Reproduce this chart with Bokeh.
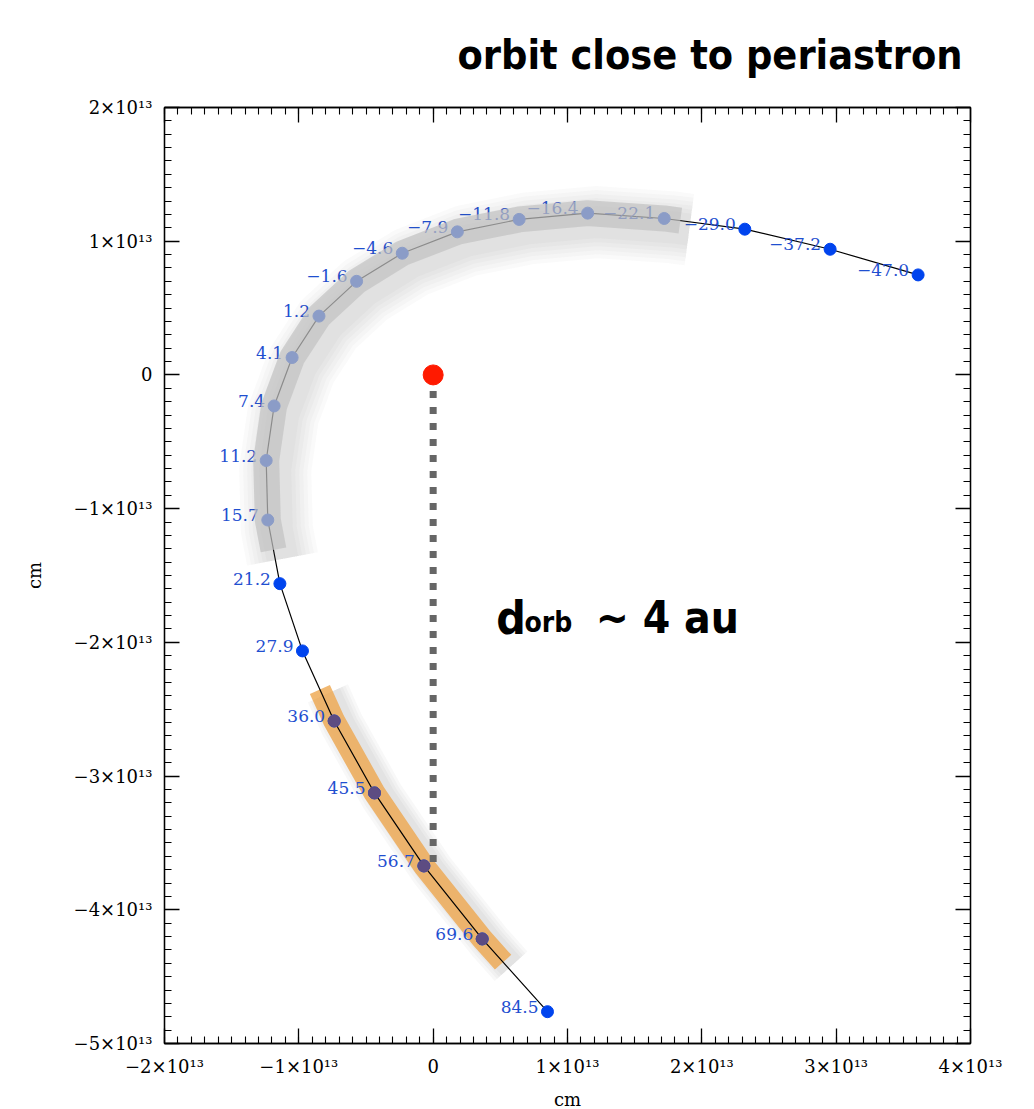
import numpy as np
from bokeh.plotting import figure
from bokeh.models import (Range1d, FixedTicker, LinearAxis, ColumnDataSource, Label,
                          CustomJSTickFormatter)
from bokeh.embed import file_html
from bokeh.resources import INLINE
from bokeh.core.properties import value

# ---------------- data ----------------
E13 = 1e13
times = [-47.0, -37.2, -29.0, -22.1, -16.4, -11.8, -7.9, -4.6, -1.6, 1.2, 4.1,
         7.4, 11.2, 15.7, 21.2, 27.9, 36.0, 45.5, 56.7, 69.6, 84.5]
orbit_x = [3.61, 2.955, 2.32, 1.72, 1.15, 0.64, 0.18, -0.23, -0.57, -0.85, -1.05,
           -1.184, -1.243, -1.231, -1.141, -0.973, -0.737, -0.437, -0.069, 0.365, 0.851]
orbit_y = [0.748, 0.94, 1.09, 1.17, 1.21, 1.163, 1.07, 0.91, 0.70, 0.44, 0.13,
           -0.232, -0.64, -1.085, -1.561, -2.064, -2.588, -3.126, -3.672, -4.218, -4.762]
star_x = [0.0]
star_y = [0.0]
x_ticks = [-2, -1, 0, 1, 2, 3, 4]
y_ticks = [-5, -4, -3, -2, -1, 0, 1, 2]
x_tick_labels = ["\u22122\u00d710\u00b9\u00b3", "\u22121\u00d710\u00b9\u00b3", "0",
                 "1\u00d710\u00b9\u00b3", "2\u00d710\u00b9\u00b3", "3\u00d710\u00b9\u00b3",
                 "4\u00d710\u00b9\u00b3"]
y_tick_labels = ["\u22125\u00d710\u00b9\u00b3", "\u22124\u00d710\u00b9\u00b3",
                 "\u22123\u00d710\u00b9\u00b3", "\u22122\u00d710\u00b9\u00b3",
                 "\u22121\u00d710\u00b9\u00b3", "0", "1\u00d710\u00b9\u00b3",
                 "2\u00d710\u00b9\u00b3"]
# highlighted arcs (first/last time of each band)
gray_span = (-22.1, 15.7)
orange_span = (36.0, 69.6)
# separation marker ends at the orbit crossing point
marker_time = 56.7

X = np.array(orbit_x) * E13
Y = np.array(orbit_y) * E13
labels = [f"{t:.1f}".replace("-", "\u2212") for t in times]


def band(t0, t1, f0, f1):
    i0, i1 = times.index(t0), times.index(t1)
    xs = [X[i0] + f0 * (X[i0 - 1] - X[i0])] + list(X[i0:i1 + 1]) + [X[i1] + f1 * (X[i1 + 1] - X[i1])]
    ys = [Y[i0] + f0 * (Y[i0 - 1] - Y[i0])] + list(Y[i0:i1 + 1]) + [Y[i1] + f1 * (Y[i1 + 1] - Y[i1])]
    return np.array(xs), np.array(ys), i0, i1


narrow = "'DejaVu Sans Condensed', 'Liberation Sans Narrow', 'Roboto', sans-serif"

# ---------------- figure ----------------
p = figure(frame_width=806, frame_height=936,
           x_range=Range1d(x_ticks[0] * E13, x_ticks[-1] * E13),
           y_range=Range1d(y_ticks[0] * E13, y_ticks[-1] * E13),
           output_backend="svg", toolbar_location=None,
           min_border_left=164, min_border_right=64, min_border_top=107, min_border_bottom=66,
           background_fill_color="white", border_fill_color="white",
           title="orbit close to periastron")
p.title.align = "right"
p.title.vertical_align = "top"
p.title.text_font = narrow
p.title.text_font_style = "bold"
p.title.text_font_size = "41px"
p.title.text_color = "black"
p.title.offset = 8
p.title.standoff = 54
p.grid.visible = False
p.outline_line_color = "black"
p.outline_line_width = 1.3

bottom = p.below[0]
left = p.left[0]

xt = [v * E13 for v in x_ticks]
yt = [v * E13 for v in y_ticks]
xminor = list(np.arange(x_ticks[0], x_ticks[-1] + 1e-9, 0.1) * E13)
yminor = list(np.arange(y_ticks[0], y_ticks[-1] + 1e-9, 0.1) * E13)

fmt_code = "const i = tv.indexOf(tick); return i >= 0 ? tl[i] : '';"
xfmt = CustomJSTickFormatter(args=dict(tv=xt, tl=x_tick_labels), code=fmt_code)
yfmt = CustomJSTickFormatter(args=dict(tv=yt, tl=y_tick_labels), code=fmt_code)
blank = CustomJSTickFormatter(code="return '';")

top = LinearAxis()
right = LinearAxis()
p.add_layout(top, "above")
p.add_layout(right, "right")

for ax, tk, mn, fm in [(bottom, xt, xminor, xfmt), (left, yt, yminor, yfmt),
                       (top, xt, xminor, blank), (right, yt, yminor, blank)]:
    ax.ticker = FixedTicker(ticks=tk, minor_ticks=mn)
    ax.formatter = fm
    ax.major_tick_in = 15
    ax.major_tick_out = 0
    ax.minor_tick_in = 7
    ax.minor_tick_out = 0
    ax.axis_line_color = "black"
    ax.axis_line_width = 1.3
    ax.major_tick_line_color = "black"
    ax.major_tick_line_width = 1.3
    ax.minor_tick_line_color = "black"
    ax.minor_tick_line_width = 1.1
    ax.major_label_text_font = "DejaVu Serif"
    ax.major_label_text_font_size = "18px"
    ax.major_label_text_color = "black"

bottom.major_label_standoff = 12
left.major_label_standoff = 12
for ax in (bottom, left):
    ax.axis_label = "cm"
    ax.axis_label_text_font = "DejaVu Serif"
    ax.axis_label_text_font_size = "18px"
    ax.axis_label_text_font_style = "normal"
    ax.axis_label_text_color = "black"
bottom.axis_label_standoff = 9
left.axis_label_standoff = 26

# ---------------- orange band (under the orbit) ----------------
ox, oy, oi0, oi1 = band(orange_span[0], orange_span[1], 0.45, 0.32)
sh = (8 / 134.3) * E13
for w in (44, 38, 32, 26):
    p.line(ox + sh, oy - sh * 0.5, line_color="#555555", line_alpha=0.04, line_width=w,
           line_join="round", line_cap="butt")
p.line(ox, oy, line_color="#eea64d", line_alpha=0.8, line_width=22, line_join="round", line_cap="butt")

# ---------------- orbit ----------------
p.line(X, Y, line_color="black", line_width=1.2)

# separation marker
mi = times.index(marker_time)
p.line([star_x[0] * E13, star_x[0] * E13], [star_y[0] * E13, Y[mi]], line_color="#666666",
       line_width=7, line_dash="7 9", line_cap="butt")
p.scatter(np.array(star_x) * E13, np.array(star_y) * E13, size=20, color="#ff1a00")

# points
src = ColumnDataSource(dict(x=X, y=Y, lab=labels))
p.scatter("x", "y", source=src, size=12, color="#0044ee")
p.scatter(X[oi0:oi1 + 1], Y[oi0:oi1 + 1], size=12, color="#5d4c82")
p.text("x", "y", text="lab", source=src, text_align="right", text_baseline="middle",
       x_offset=-9, y_offset=-5, text_font=value("DejaVu Serif"), text_font_size="17px",
       text_color="#1f4fd0")

# ---------------- gray band (overlay) ----------------
gx, gy, gi0, gi1 = band(gray_span[0], gray_span[1], 0.2, 0.47)
sd = (9 / 134.3) * E13
for w in (72, 64, 56, 48, 40, 32):
    p.line(gx + sd, gy - sd, line_color="#666666", line_alpha=0.03, line_width=w,
           line_join="round", line_cap="butt")
p.line(gx, gy, line_color="#c2c2c2", line_alpha=0.7, line_width=26, line_join="round", line_cap="butt")

# ---------------- annotation ----------------
p.add_layout(Label(x=0.47e13, y=-1.8175e13, text="d", text_align="left", text_baseline="alphabetic",
                   text_font=narrow, text_font_style="bold", text_font_size="46px", text_color="black"))
p.add_layout(Label(x=0.68e13, y=-1.85e13, text="orb", text_align="left", text_baseline="alphabetic",
                   text_font=narrow, text_font_style="bold", text_font_size="28px", text_color="black"))
p.add_layout(Label(x=1.21e13, y=-1.8175e13, text="~ 4 au", text_align="left", text_baseline="alphabetic",
                   text_font=narrow, text_font_style="bold", text_font_size="44px", text_color="black"))

open("out.html", "w").write(file_html(p, INLINE))
